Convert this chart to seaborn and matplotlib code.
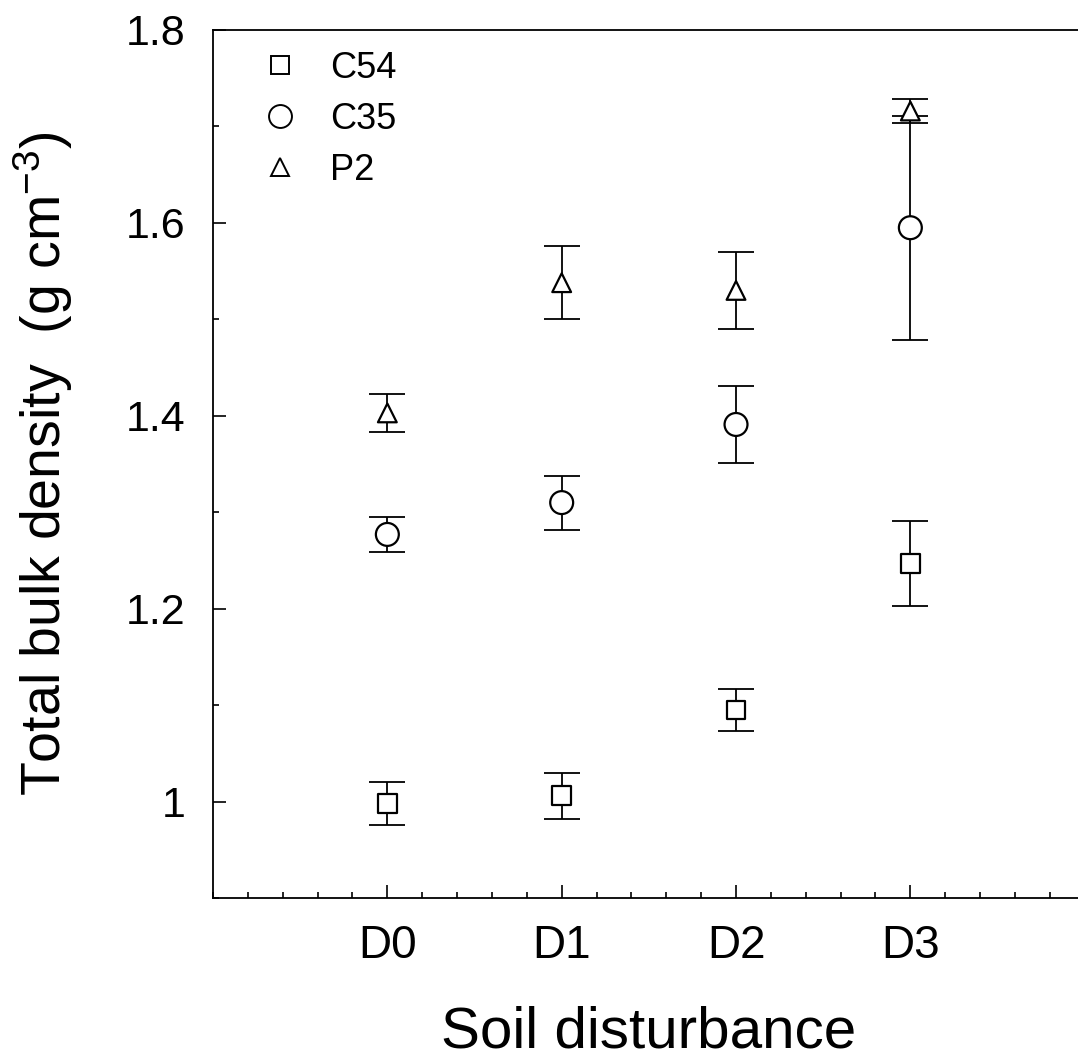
import numpy as np
import pandas as pd
import matplotlib
matplotlib.use('Agg')
import matplotlib.pyplot as plt
from matplotlib.lines import Line2D
from matplotlib.ticker import MultipleLocator, FixedLocator
import seaborn as sns

# values (mean and +/- error per disturbance level)
levels = ['D0', 'D1', 'D2', 'D3']
series = ['C54', 'C35', 'P2']
c54_mean = [0.998, 1.006, 1.095, 1.247]
c54_err = [0.022, 0.024, 0.022, 0.044]
c35_mean = [1.277, 1.310, 1.391, 1.595]
c35_err = [0.018, 0.028, 0.040, 0.116]
p2_mean = [1.403, 1.538, 1.530, 1.716]
p2_err = [0.020, 0.038, 0.040, 0.012]

sns.set_style('white')
plt.rcParams['font.family'] = ['Liberation Sans', 'DejaVu Sans']
plt.rcParams['mathtext.fontset'] = 'custom'
plt.rcParams['mathtext.rm'] = 'Liberation Sans'
plt.rcParams['mathtext.it'] = 'Liberation Sans:italic'
for key in ['text.color', 'axes.labelcolor', 'xtick.color', 'ytick.color']:
    plt.rcParams[key] = 'black'

df = pd.DataFrame({
    'pos': list(range(len(levels))) * 3,
    'density': c54_mean + c35_mean + p2_mean,
    'err': c54_err + c35_err + p2_err,
    'soil': [s for s in series for _ in levels],
})

markers = {'C54': 's', 'C35': 'o', 'P2': '^'}
msize = {'C54': 13.5, 'C35': 16.5, 'P2': 13.5}

fig = plt.figure(figsize=(10.78, 10.6), dpi=100)
ax = fig.add_axes([0.1976, 0.1528, 0.8086, 0.8189])

ax.errorbar(df['pos'], df['density'], yerr=df['err'], fmt='none', ecolor='black',
            elinewidth=1.3, capsize=13, capthick=1.3, zorder=2)
sns.scatterplot(data=df, x='pos', y='density', style='soil', size='soil',
                markers=markers, sizes={k: v ** 2 for k, v in msize.items()},
                color='white', edgecolor='black', linewidth=1.6, legend=False,
                zorder=3, ax=ax)

ax.set_xlim(-1, 4)
ax.set_ylim(0.9, 1.8)
ax.xaxis.set_major_locator(FixedLocator(range(len(levels))))
ax.set_xticklabels(levels)
ax.xaxis.set_minor_locator(MultipleLocator(0.2))
ax.set_yticks([1.0, 1.2, 1.4, 1.6, 1.8])
ax.set_yticklabels(['1', '1.2', '1.4', '1.6', '1.8'])
ax.yaxis.set_minor_locator(MultipleLocator(0.1))
ax.tick_params(which='both', direction='in', color='black', width=1.2,
               bottom=True, left=True, top=False, right=False)
ax.tick_params(which='major', length=9.5)
ax.tick_params(which='minor', length=4.5)
ax.tick_params(axis='x', which='major', labelsize=33, pad=19)
ax.tick_params(axis='y', which='major', labelsize=31, pad=20)
for sp in ax.spines.values():
    sp.set_color('black')
    sp.set_linewidth(1.3)

ax.set_xlabel('Soil disturbance', fontsize=42)
ax.set_ylabel('Total bulk density  (g cm$^{-3}$)', fontsize=40)
ax.xaxis.set_label_coords(0.5, -0.124)
ax.yaxis.set_label_coords(-0.158, 0.5)

handles = [Line2D([], [], linestyle='none', marker=markers[s], markersize=msize[s],
                  markerfacecolor='white', markeredgecolor='black', markeredgewidth=1.4,
                  label=s) for s in series]
ax.legend(handles=handles, loc='upper left', bbox_to_anchor=(0.056, 0.976),
          frameon=False, fontsize=26, handlelength=1.0, handletextpad=0.9,
          labelspacing=0.44, borderpad=0, borderaxespad=0)

fig.savefig('out.png', dpi=100)
